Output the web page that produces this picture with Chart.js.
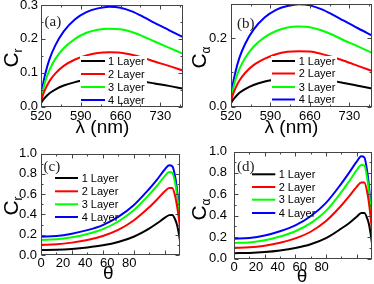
<!DOCTYPE html>
<html><head><meta charset="utf-8">
<script src="https://cdn.jsdelivr.net/npm/chart.js@4.4.1/dist/chart.umd.min.js"></script>
<style>
html,body{margin:0;padding:0;background:#fff;}
#wrap{position:relative;width:374px;height:284px;overflow:hidden;background:#fff;}
canvas{position:absolute;}
</style></head><body>
<div id="wrap">
<canvas id="pa" style="left:0;top:0;width:187px;height:142px" width="187" height="142"></canvas>
<canvas id="pb" style="left:187px;top:0;width:187px;height:142px" width="187" height="142"></canvas>
<canvas id="pc" style="left:0;top:142px;width:187px;height:142px" width="187" height="142"></canvas>
<canvas id="pd" style="left:187px;top:142px;width:187px;height:142px" width="187" height="142"></canvas>
</div>
<script>
// ---------- data ----------
const layerLabels = ['1 Layer', '2 Layer', '3 Layer', '4 Layer'];
const layerColors = ['#000000', '#ff0000', '#00ff00', '#0000ff'];

const lambdaNm = [520, 523, 528, 535, 545, 560, 580, 600, 620, 640, 660, 680, 700, 720, 745, 770];
const aLayer1 = [0.010, 0.018, 0.028, 0.039, 0.050, 0.062, 0.072, 0.078, 0.082, 0.083, 0.082, 0.079, 0.074, 0.068, 0.061, 0.053];
const aLayer2 = [0.015, 0.032, 0.053, 0.075, 0.097, 0.120, 0.139, 0.151, 0.158, 0.160, 0.159, 0.153, 0.144, 0.133, 0.120, 0.106];
const aLayer3 = [0.018, 0.045, 0.077, 0.108, 0.140, 0.172, 0.200, 0.218, 0.227, 0.230, 0.228, 0.220, 0.207, 0.192, 0.174, 0.156];
const aLayer4 = [0.020, 0.060, 0.100, 0.140, 0.180, 0.222, 0.258, 0.279, 0.290, 0.295, 0.292, 0.281, 0.265, 0.247, 0.226, 0.205];

const bLayer1 = [0.010, 0.018, 0.028, 0.040, 0.051, 0.063, 0.073, 0.079, 0.083, 0.085, 0.084, 0.080, 0.075, 0.069, 0.061, 0.053];
const bLayer2 = [0.015, 0.033, 0.054, 0.076, 0.098, 0.121, 0.140, 0.153, 0.160, 0.162, 0.161, 0.154, 0.145, 0.134, 0.119, 0.104];
const bLayer3 = [0.018, 0.046, 0.079, 0.110, 0.142, 0.175, 0.203, 0.221, 0.231, 0.234, 0.232, 0.223, 0.210, 0.194, 0.176, 0.157];
const bLayer4 = [0.020, 0.062, 0.102, 0.143, 0.183, 0.225, 0.261, 0.283, 0.294, 0.299, 0.296, 0.285, 0.269, 0.251, 0.229, 0.208];

const thetaDeg = [0, 10, 20, 30, 40, 50, 60, 70, 75, 80, 83, 85, 87, 88, 89, 90];
const cLayer1 = [0.050, 0.052, 0.060, 0.074, 0.095, 0.128, 0.180, 0.260, 0.310, 0.365, 0.393, 0.395, 0.345, 0.300, 0.230, 0.140];
const cLayer2 = [0.100, 0.105, 0.122, 0.148, 0.187, 0.247, 0.340, 0.470, 0.545, 0.625, 0.660, 0.660, 0.570, 0.490, 0.390, 0.270];
const cLayer3 = [0.148, 0.154, 0.175, 0.207, 0.255, 0.330, 0.440, 0.595, 0.680, 0.775, 0.818, 0.810, 0.700, 0.600, 0.480, 0.350];
const cLayer4 = [0.180, 0.187, 0.210, 0.245, 0.295, 0.375, 0.490, 0.650, 0.740, 0.840, 0.885, 0.875, 0.760, 0.650, 0.520, 0.370];

const dLayer1 = [0.050, 0.052, 0.060, 0.075, 0.098, 0.133, 0.190, 0.280, 0.330, 0.390, 0.425, 0.425, 0.370, 0.320, 0.240, 0.140];
const dLayer2 = [0.100, 0.104, 0.120, 0.147, 0.188, 0.250, 0.350, 0.495, 0.580, 0.670, 0.710, 0.710, 0.610, 0.520, 0.400, 0.260];
const dLayer3 = [0.145, 0.150, 0.170, 0.205, 0.255, 0.330, 0.445, 0.620, 0.720, 0.825, 0.875, 0.870, 0.740, 0.630, 0.480, 0.310];
const dLayer4 = [0.185, 0.192, 0.215, 0.255, 0.310, 0.395, 0.520, 0.700, 0.800, 0.905, 0.955, 0.945, 0.800, 0.680, 0.520, 0.330];

// tick values
const lambdaTicks = [520, 590, 660, 730];
const lambdaMinor = [555, 625, 695, 765];
const thetaTickLabels = [0, 20, 40, 60, 80];
const thetaMajor = [0, 20, 40, 60, 80];
const thetaMinor = [10, 30, 50, 70];
const yTicksA = [0, 0.1, 0.2, 0.3];
const yMinorA = [0.05, 0.15, 0.25];
const yTicksB = [0, 0.2];
const yMinorB = [0.1];
const yTicksCD = [0, 0.2, 0.4, 0.6, 0.8, 1.0];
const yMinorCD = [0.1, 0.3, 0.5, 0.7, 0.9];

// ---------- drawing ----------
const SANS = '"Liberation Sans", Arial, "DejaVu Sans", sans-serif';
const SERIF = '"Liberation Serif", "Times New Roman", "DejaVu Serif", serif';

const deco = {
  id: 'deco',
  afterDatasetsDraw(chart, args, o) {
    const ctx = chart.ctx, ca = chart.chartArea;
    const xs = chart.scales.x, ys = chart.scales.y;
    ctx.save();
    if (o.box) { ctx.fillStyle = '#fff'; ctx.fillRect(o.box[0], o.box[1], o.box[2], o.box[3]); }
    const L = Math.round(ca.left) + 0.5, R = Math.round(ca.right) - 0.5;
    const T = Math.round(ca.top) + 0.5, B = Math.round(ca.bottom) - 0.5;
    ctx.strokeStyle = '#444'; ctx.lineWidth = 1;
    ctx.beginPath();
    const xt = (vals, len) => vals.forEach(v => {
      const p = Math.round(xs.getPixelForValue(v)) + 0.5;
      ctx.moveTo(p, B); ctx.lineTo(p, B - len); ctx.moveTo(p, T); ctx.lineTo(p, T + len);
    });
    const yt = (vals, len) => vals.forEach(v => {
      const p = Math.round(ys.getPixelForValue(v)) + 0.5;
      ctx.moveTo(L, p); ctx.lineTo(L + len, p); ctx.moveTo(R, p); ctx.lineTo(R - len, p);
    });
    xt(o.xMajor, 4); xt(o.xMinor, 2); yt(o.yMajor, 4); yt(o.yMinor, 2);
    ctx.stroke();
    ctx.strokeRect(L, T, R - L, B - T);
    ctx.font = '11px ' + SANS;
    ctx.textBaseline = 'middle'; ctx.textAlign = 'left';
    chart.data.datasets.forEach((ds, i) => {
      const y = o.leg.rows[i];
      ctx.strokeStyle = ds.borderColor; ctx.lineWidth = 2;
      ctx.beginPath(); ctx.moveTo(o.leg.x0, y); ctx.lineTo(o.leg.x1, y); ctx.stroke();
      ctx.fillStyle = '#000'; ctx.fillText(ds.label, o.leg.tx, y + 0.5);
    });
    ctx.font = '15px ' + SERIF; ctx.fillStyle = '#222';
    ctx.fillText(o.tag.text, o.tag.x, o.tag.y);
    ctx.font = o.xTitle.size + 'px ' + SANS; ctx.fillStyle = '#000';
    ctx.textAlign = 'center';
    ctx.fillText(o.xTitle.text, o.xTitle.x, o.xTitle.y);
    const yT = o.yTitle;
    ctx.translate(yT.bx, yT.cy); ctx.rotate(-Math.PI / 2);
    ctx.textAlign = 'left'; ctx.textBaseline = 'alphabetic';
    ctx.font = yT.size + 'px ' + SANS;
    const wm = ctx.measureText(yT.main).width;
    ctx.font = yT.subSize + 'px ' + SANS;
    const ws = ctx.measureText(yT.sub).width;
    const x0 = -(wm + ws) / 2;
    ctx.font = yT.size + 'px ' + SANS;
    ctx.fillText(yT.main, x0, 0);
    ctx.font = yT.subSize + 'px ' + SANS;
    ctx.fillText(yT.sub, x0 + wm, 4);
    ctx.restore();
  }
};

function buildPanel(id, xVals, series, P) {
  const W = 187, H = 142;
  const datasets = series.map((vals, i) => ({
    label: layerLabels[i],
    data: xVals.map((x, j) => ({ x: x, y: vals[j] })),
    borderColor: layerColors[i], borderWidth: 2, pointRadius: 0,
    cubicInterpolationMode: 'monotone', fill: false
  }));
  const tickFont = { family: SANS, size: 13 };
  const xLabelCfg = (min, max, ticks) => ({
    type: 'linear', position: 'bottom', min: min, max: max,
    afterBuildTicks: s => { s.ticks = ticks.map(v => ({ value: v })); },
    afterFit: s => { s.height = H - P.B; s.paddingLeft = 0; s.paddingRight = 0; },
    grid: { display: false, drawTicks: false }, border: { display: false },
    ticks: { padding: P.xPad, color: '#000', font: tickFont, maxRotation: 0, autoSkip: false, callback: v => String(v) }
  });
  const scales = {};
  if (P.labelMax) {
    scales.x = { type: 'linear', min: P.xMin, max: P.xMax, display: false };
    scales.xl = xLabelCfg(0, P.labelMax, P.xLabels);
  } else {
    scales.x = xLabelCfg(P.xMin, P.xMax, P.xLabels);
  }
  scales.y = {
    type: 'linear', position: 'left', min: 0, max: P.yMax,
    afterBuildTicks: s => { s.ticks = P.yTicks.map(v => ({ value: v })); },
    afterFit: s => { s.width = P.L; s.paddingTop = 0; s.paddingBottom = 0; },
    grid: { display: false, drawTicks: false }, border: { display: false },
    ticks: { padding: P.yPad, color: '#000', font: tickFont, callback: v => Number(v).toFixed(1) }
  };
  return new Chart(document.getElementById(id), {
    type: 'line',
    data: { datasets: datasets },
    options: {
      responsive: false, animation: false, maintainAspectRatio: false,
      layout: { padding: { left: 0, top: P.T, right: W - P.R, bottom: 0 } },
      scales: scales,
      plugins: {
        legend: { display: false }, tooltip: { enabled: false },
        deco: P.deco
      }
    },
    plugins: [deco]
  });
}

buildPanel('pa', lambdaNm, [aLayer1, aLayer2, aLayer3, aLayer4], {
  L: 41, R: 183, T: 5, B: 106.5, xMin: 520, xMax: 770, xLabels: lambdaTicks, yMax: 0.3, yTicks: yTicksA, yPad: 3, xPad: 2,
  deco: { box: [80, 56, 67, 50], xMajor: lambdaTicks, xMinor: lambdaMinor, yMajor: yTicksA, yMinor: yMinorA,
    leg: { x0: 81, x1: 105, tx: 108, rows: [61, 74, 87, 100] },
    tag: { text: '(a)', x: 44.5, y: 22.5 },
    xTitle: { text: 'λ (nm)', x: 102.5, y: 127.5, size: 19 },
    yTitle: { main: 'C', sub: 'r', bx: 18, cy: 58, size: 21, subSize: 12 } }
});
buildPanel('pb', lambdaNm, [bLayer1, bLayer2, bLayer3, bLayer4], {
  L: 44, R: 185, T: 4, B: 106.5, xMin: 520, xMax: 770, xLabels: lambdaTicks, yMax: 0.3, yTicks: yTicksB, yPad: 4, xPad: 2,
  deco: { box: [84, 56, 66, 50], xMajor: lambdaTicks, xMinor: lambdaMinor, yMajor: yTicksB, yMinor: yMinorB,
    leg: { x0: 85, x1: 108, tx: 111.7, rows: [61, 73.5, 87, 99.5] },
    tag: { text: '(b)', x: 50, y: 24 },
    xTitle: { text: 'λ (nm)', x: 104.5, y: 128, size: 19 },
    yTitle: { main: 'C', sub: 'α', bx: 19, cy: 57.5, size: 21, subSize: 12 } }
});
buildPanel('pc', thetaDeg, [cLayer1, cLayer2, cLayer3, cLayer4], {
  L: 41, R: 180, T: 11.5, B: 113, xMin: 0, xMax: 90, labelMax: 126, xLabels: thetaTickLabels, yMax: 1.0, yTicks: yTicksCD, yPad: 4, xPad: 1,
  deco: { xMajor: thetaMajor, xMinor: thetaMinor, yMajor: yTicksCD, yMinor: yMinorCD,
    leg: { x0: 55, x1: 78, tx: 81.7, rows: [36, 49.3, 62.3, 75] },
    tag: { text: '(c)', x: 43.5, y: 25 },
    xTitle: { text: 'θ', x: 108.3, y: 131.7, size: 19 },
    yTitle: { main: 'C', sub: 'r', bx: 18, cy: 64, size: 21, subSize: 12 } }
});
buildPanel('pd', thetaDeg, [dLayer1, dLayer2, dLayer3, dLayer4], {
  L: 47, R: 185, T: 9.5, B: 116.5, xMin: 0, xMax: 90, labelMax: 126, xLabels: thetaTickLabels, yMax: 1.0, yTicks: yTicksCD, yPad: 7, xPad: 1,
  deco: { xMajor: thetaMajor, xMinor: thetaMinor, yMajor: yTicksCD, yMinor: yMinorCD,
    leg: { x0: 65, x1: 88.3, tx: 91.7, rows: [32.3, 45, 57.7, 71] },
    tag: { text: '(d)', x: 50, y: 25 },
    xTitle: { text: 'θ', x: 115, y: 135, size: 19 },
    yTitle: { main: 'C', sub: 'α', bx: 19, cy: 67.5, size: 21, subSize: 12 } }
});
</script>
</body></html>
